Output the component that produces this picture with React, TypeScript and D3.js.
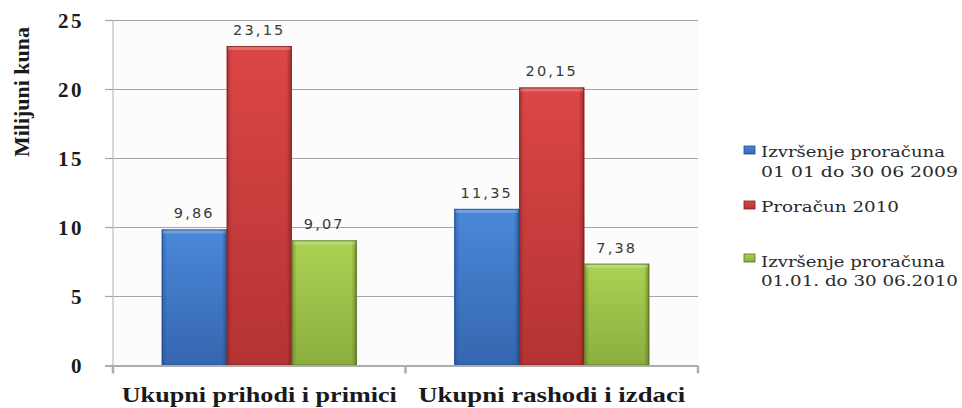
import * as d3 from 'd3';
import React from 'react';

// --- Data ---
const categories = ['Ukupni prihodi i primici', 'Ukupni rashodi i izdaci'];
const seriesNames = [
  ['Izvršenje proračuna', '01 01  do 30 06 2009'],
  ['Proračun 2010'],
  ['Izvršenje proračuna', '01.01. do 30 06.2010'],
];
const seriesKeys = ['izv2009', 'pror2010', 'izv2010'];
const izv2009 = [9.86, 11.35];
const pror2010 = [23.15, 20.15];
const izv2010 = [9.07, 7.38];
const yTicks = [0, 5, 10, 15, 20, 25];

const seriesValues = [izv2009, pror2010, izv2010];

// colours: [top, bottom, edge]
const palette = [
  ['#4a88d8', '#3566b0', '#204d8c'],
  ['#dc4646', '#b53333', '#7f1f1f'],
  ['#abd254', '#8bae3f', '#566f1f'],
];

const W = 962;
const H = 408;
const plot = { left: 113, right: 698, top: 20.5, bottom: 365.5 };

const fmt = (v: number) => v.toFixed(2).replace('.', ',');

export default function App() {
  const x0 = d3.scaleBand<string>()
    .domain(categories)
    .range([plot.left, plot.right])
    .paddingInner(0)
    .paddingOuter(0);

  // Excel-like gap width 150% → half a gap on each side of the group
  const x1 = d3.scaleBand<string>()
    .domain(seriesKeys)
    .range([0, x0.bandwidth()])
    .paddingOuter(0.75)
    .paddingInner(0);

  const y = d3.scaleLinear().domain([0, 25]).range([plot.bottom, plot.top]);

  const legendRows = [
    { y: 150, lines: [157, 177] },
    { y: 205, lines: [212] },
    { y: 258, lines: [267, 286] },
  ];
  const legendLengths = [[184, 197], [138], [184, 197]];

  return (
    <svg width={W} height={H} viewBox={`0 0 ${W} ${H}`}
      style={{ position: 'absolute', left: 0, top: 0, background: '#fff' }}>
      <defs>
        {palette.map((c, i) => (
          <linearGradient key={i} id={`bar${i}`} x1="0" y1="0" x2="0" y2="1">
            <stop offset="0" stopColor={c[0]} />
            <stop offset="1" stopColor={c[1]} />
          </linearGradient>
        ))}
        {palette.map((c, i) => (
          <linearGradient key={'s' + i} id={`side${i}`} x1="0" y1="0" x2="1" y2="0">
            <stop offset="0" stopColor={c[2]} stopOpacity="0.5" />
            <stop offset="0.08" stopColor={c[2]} stopOpacity="0" />
            <stop offset="0.92" stopColor={c[2]} stopOpacity="0" />
            <stop offset="1" stopColor={c[2]} stopOpacity="0.7" />
          </linearGradient>
        ))}
      </defs>

      {/* plot background */}
      <rect x={plot.left} y={plot.top} width={plot.right - plot.left}
        height={plot.bottom - plot.top} fill="#fcfcfc" />

      {/* gridlines + y ticks */}
      {yTicks.map(t => (
        <g key={t}>
          {t > 0 && (
            <line x1={plot.left} x2={plot.right} y1={y(t)} y2={y(t)}
              stroke="#a6a6a6" strokeWidth={1.2} />
          )}
          <line x1={105} x2={plot.left} y1={y(t)} y2={y(t)} stroke="#a6a6a6" strokeWidth={1.2} />
          <text x={84} y={y(t)} dy="0.35em" textAnchor="end"
            fontFamily="'Liberation Serif', serif" fontWeight="bold" fontSize={21}
            letterSpacing={2.5} fill="#1a1a1a">{t}</text>
        </g>
      ))}

      {/* left axis */}
      <line x1={plot.left} x2={plot.left} y1={plot.top} y2={plot.bottom}
        stroke="#bdbdbd" strokeWidth={1.2} />

      {/* bars */}
      {categories.map((cat, ci) => (
        <g key={cat} transform={`translate(${x0(cat)},0)`}>
          {seriesKeys.map((k, si) => {
            const v = seriesValues[si][ci];
            const bx = x1(k)!;
            const bw = x1.bandwidth();
            const top = y(v);
            const h = y(0) - top;
            return (
              <g key={k}>
                <rect x={bx} y={top} width={bw} height={h} fill={`url(#bar${si})`} />
                <rect x={bx} y={top} width={bw} height={h} fill={`url(#side${si})`} />
                <rect x={bx + 1} y={top} width={bw - 2} height={4} fill="#ffffff" opacity={0.22} />
                <rect x={bx + 0.5} y={top + 0.5} width={bw - 1} height={h - 1}
                  fill="none" stroke={palette[si][2]} strokeWidth={1} opacity={0.8} />
                <text x={bx + bw / 2} y={top - 11} textAnchor="middle"
                  fontFamily="'DejaVu Sans', sans-serif" fontSize={14.5}
                  letterSpacing={2.2} fill="#3a3a3a">{fmt(v)}</text>
              </g>
            );
          })}
        </g>
      ))}

      {/* bottom axis */}
      <line x1={105} x2={plot.right} y1={plot.bottom + 0.5} y2={plot.bottom + 0.5}
        stroke="#adadad" strokeWidth={2} />
      {[plot.left, x0(categories[1])!, plot.right].map((tx, i) => (
        <line key={i} x1={tx} x2={tx} y1={plot.bottom} y2={plot.bottom + 8}
          stroke="#adadad" strokeWidth={2.5} />
      ))}

      {/* category labels */}
      {categories.map((cat, i) => (
        <text key={cat} x={x0(cat)! + x0.bandwidth() / 2} y={402}
          textAnchor="middle" fontFamily="'Liberation Serif', serif" fontWeight="bold"
          fontSize={22} textLength={i === 0 ? 275 : 267} lengthAdjust="spacingAndGlyphs"
          fill="#1a1a1a">{cat}</text>
      ))}

      {/* y-axis title */}
      <text transform="translate(29,92) rotate(-90)" textAnchor="middle"
        fontFamily="'Liberation Serif', serif" fontWeight="bold" fontSize={20}
        textLength={130} lengthAdjust="spacingAndGlyphs" fill="#1a1a1a">Milijuni kuna</text>

      {/* legend */}
      {legendRows.map((row, i) => (
        <g key={i}>
          <rect x={744} y={row.y - 4} width={11} height={8} fill={`url(#bar${i})`}
            stroke={palette[i][2]} strokeWidth={0.8} />
          {seriesNames[i].map((line, li) => (
            <text key={li} x={761} y={row.lines[li]}
              fontFamily="'DejaVu Serif', serif" fontSize={14.5}
              textLength={legendLengths[i][li]} lengthAdjust="spacingAndGlyphs"
              fill="#2a2a2a">{line}</text>
          ))}
        </g>
      ))}
    </svg>
  );
}
